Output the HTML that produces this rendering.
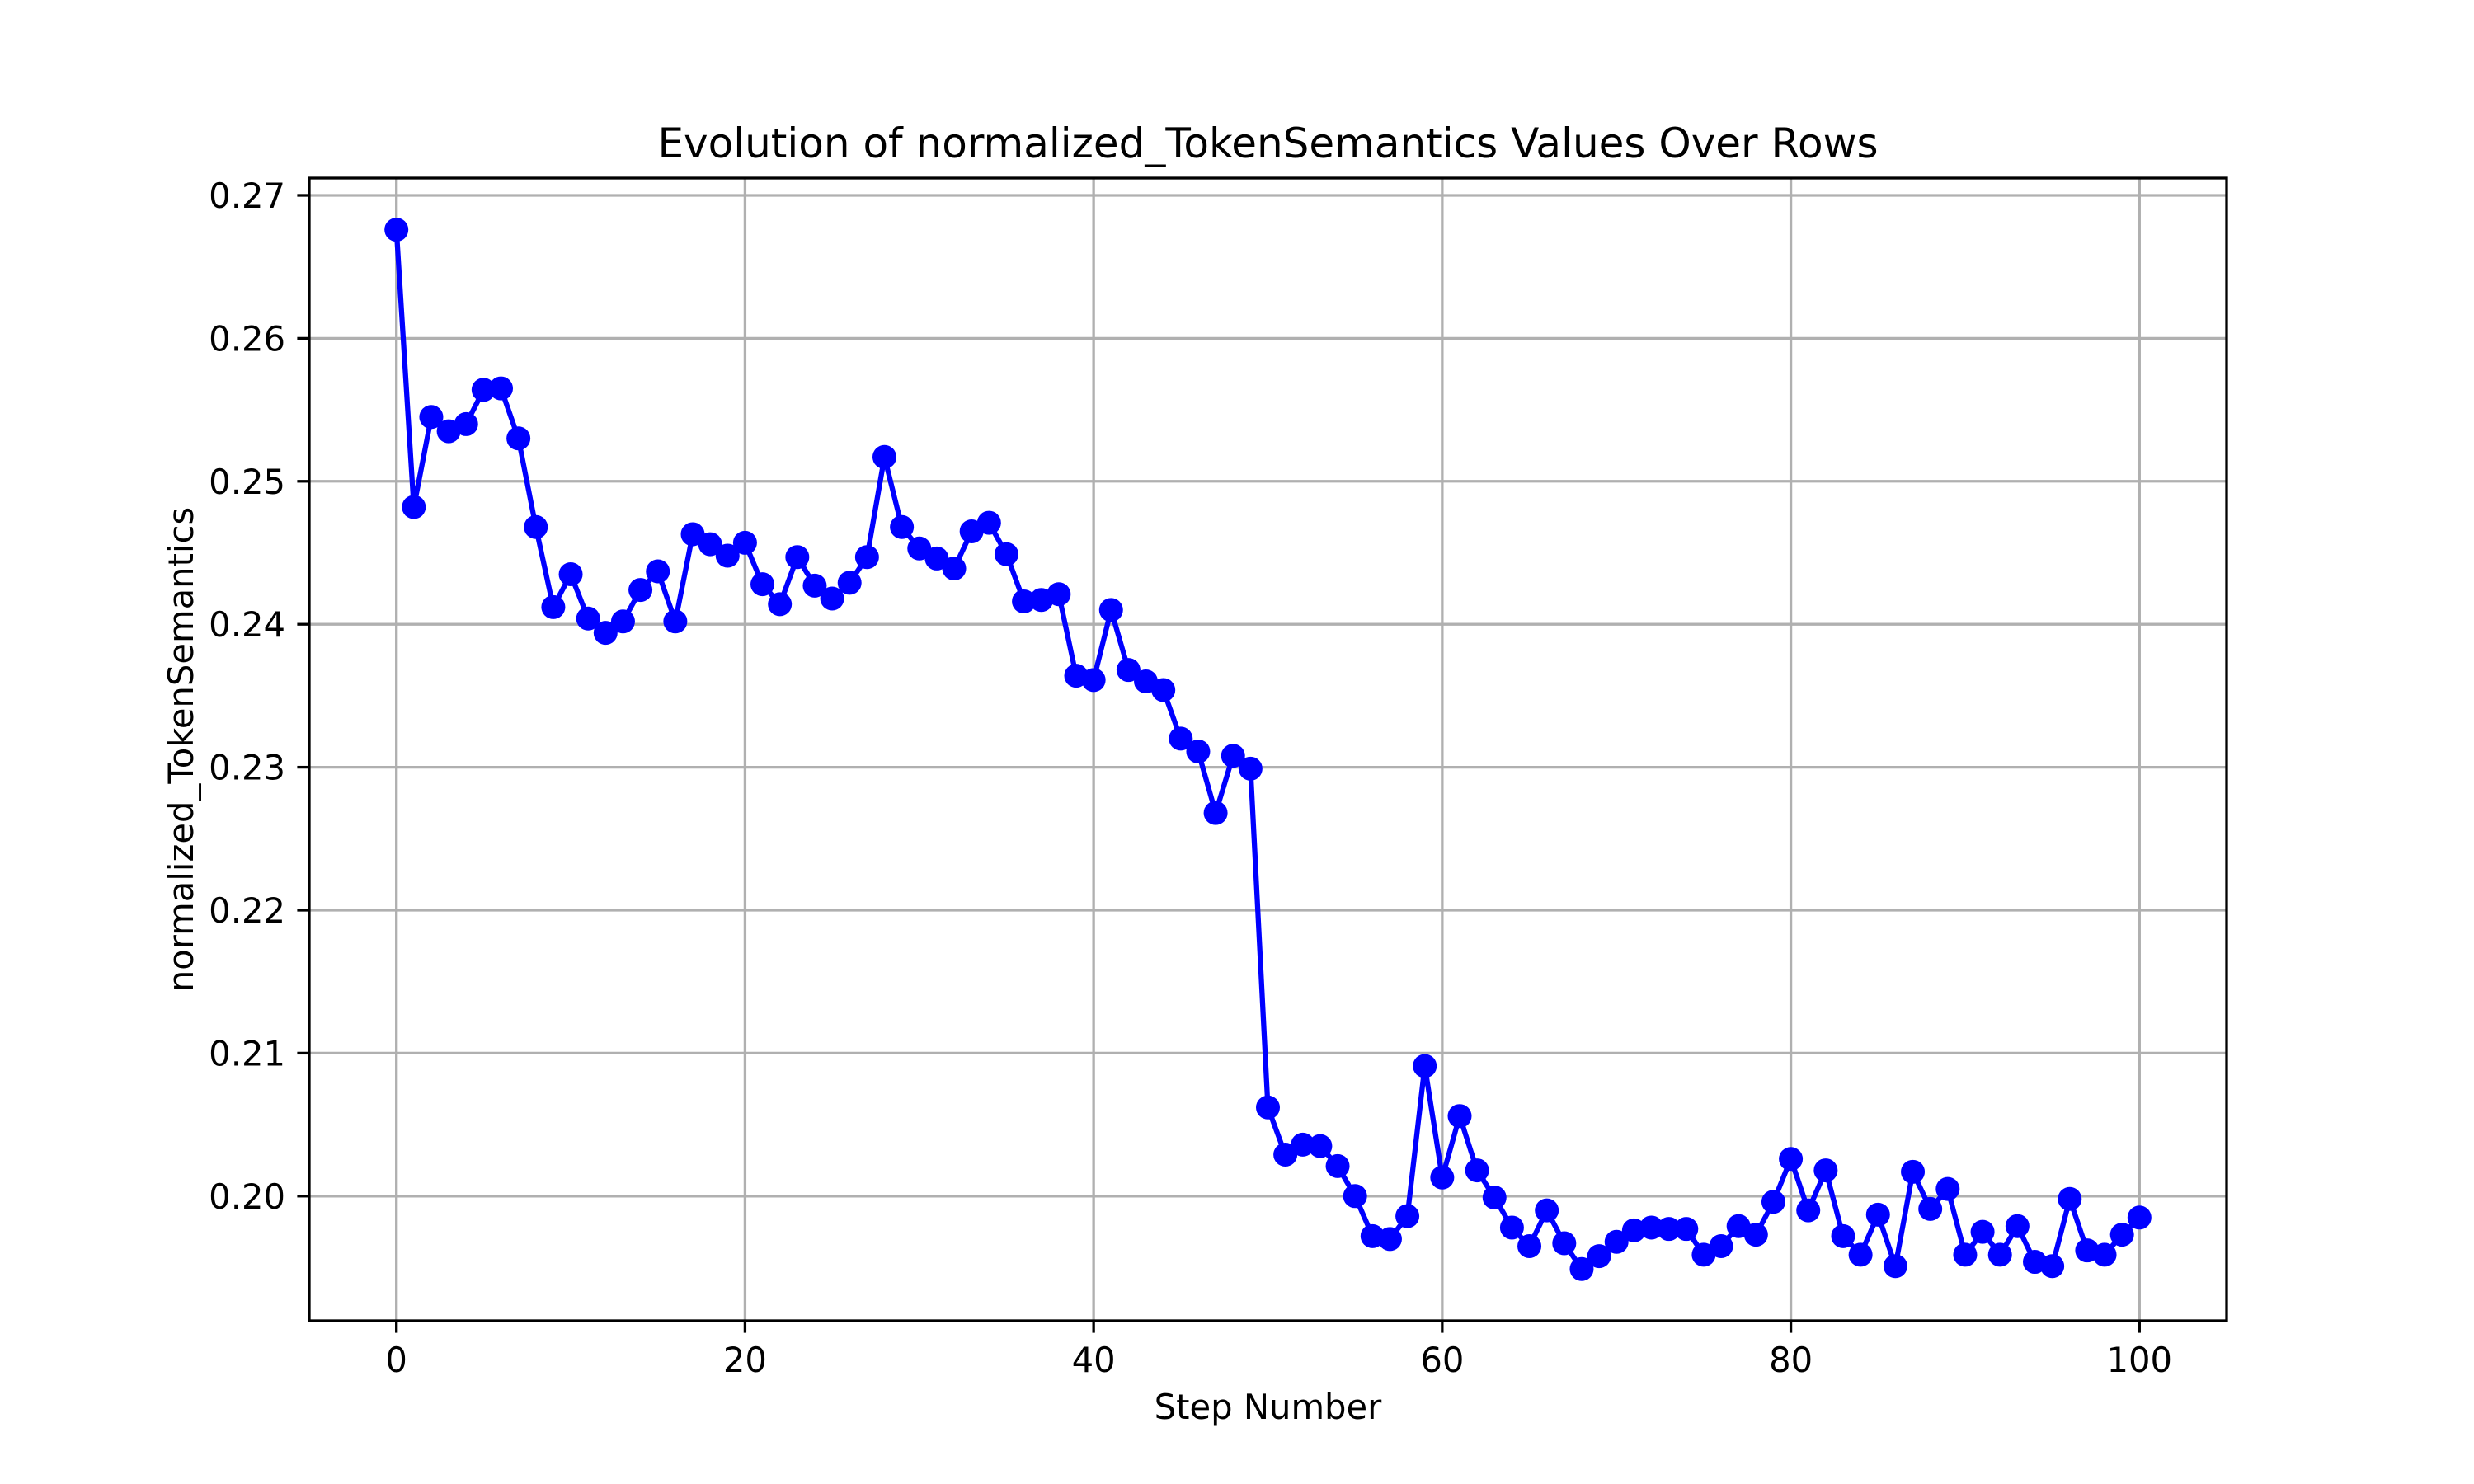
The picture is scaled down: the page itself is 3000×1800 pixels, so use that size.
<!DOCTYPE html>
<html><head><meta charset="utf-8"><style>body{margin:0;background:#fff}svg{display:block}text{font-family:"DejaVu Sans","Liberation Sans",sans-serif;fill:#000}</style></head>
<body>
<svg id="chart" width="3000" height="1800" xmlns="http://www.w3.org/2000/svg">
<rect width="3000" height="1800" fill="#fff"/>
<g id="grid"></g>
<g id="series"></g>
<rect x="375" y="216" width="2325" height="1386" fill="none" stroke="#000" stroke-width="3.3"/>
<g id="ticks"></g>
<text x="1537.5" y="191" font-size="50" text-anchor="middle">Evolution of normalized_TokenSemantics Values Over Rows</text>
<text x="1537.5" y="1721" font-size="41.7" text-anchor="middle">Step Number</text>
<text x="0" y="0" font-size="41.7" text-anchor="middle" transform="translate(234,909) rotate(-90)">normalized_TokenSemantics</text>
</svg>
<script>
const values = [0.2676,0.2482,0.2545,0.2535,0.2540,0.2564,0.2565,0.2530,0.2468,0.2412,
0.2435,0.2404,0.2394,0.2402,0.2424,0.2437,0.2402,0.2463,0.2456,0.2448,
0.2457,0.2428,0.2414,0.2447,0.2427,0.2418,0.2429,0.2447,0.2517,0.2468,
0.2453,0.2446,0.2439,0.2465,0.2471,0.2449,0.2416,0.2417,0.2421,0.2364,
0.2361,0.2410,0.2368,0.2360,0.2354,0.2320,0.2311,0.2268,0.2308,0.2299,
0.2062,0.2029,0.2036,0.2035,0.2021,0.2000,0.1972,0.1970,0.1986,0.2091,
0.2013,0.2056,0.2018,0.1999,0.1978,0.1965,0.1990,0.1967,0.1949,0.1958,
0.1968,0.1976,0.1978,0.1977,0.1977,0.1959,0.1965,0.1979,0.1973,0.1996,
0.2026,0.1990,0.2018,0.1972,0.1959,0.1987,0.1951,0.2017,0.1991,0.2005,
0.1959,0.1975,0.1959,0.1979,0.1954,0.1951,0.1998,0.1962,0.1959,0.1973,0.1985];
const xTicks = [0,20,40,60,80,100];
const yTicks = [0.20,0.21,0.22,0.23,0.24,0.25,0.26,0.27];
const yTickLabels = ["0.20","0.21","0.22","0.23","0.24","0.25","0.26","0.27"];
const L=375,R=2700,T=216,B=1602;
const xMin=-5,xMax=105,yMin=0.19128,yMax=0.27121;
const sx=v=>L+(v-xMin)/(xMax-xMin)*(R-L);
const sy=v=>B-(v-yMin)/(yMax-yMin)*(B-T);
const NS="http://www.w3.org/2000/svg";
function mk(tag,attrs,parent){const e=document.createElementNS(NS,tag);for(const k in attrs)e.setAttribute(k,attrs[k]);parent.appendChild(e);return e;}
const grid=document.getElementById('grid'),ticks=document.getElementById('ticks'),series=document.getElementById('series');
xTicks.forEach(t=>{
  const x=sx(t);
  const g=mk('line',{x1:x,x2:x,y1:T,y2:B,stroke:'#b0b0b0','stroke-width':3.3},grid);
  
  
  const tk=mk('line',{x1:x,x2:x,y1:B,y2:B+14.6,stroke:'#000','stroke-width':3.3},ticks);
  
  
  const tx=mk('text',{x:x,y:B+62,'font-size':41.7,'text-anchor':'middle'},ticks);
  tx.textContent=String(t);
  
  
});
yTicks.forEach((t,i)=>{
  const y=sy(t);
  const g=mk('line',{x1:L,x2:R,y1:y,y2:y,stroke:'#b0b0b0','stroke-width':3.3},grid);
  
  
  const tk=mk('line',{x1:L-14.6,x2:L,y1:y,y2:y,stroke:'#000','stroke-width':3.3},ticks);
  
  
  const tx=mk('text',{x:L-29,y:y+15,'font-size':41.7,'text-anchor':'end'},ticks);
  tx.textContent=yTickLabels[i];
  
  
});
const pts=values.map((v,i)=>sx(i).toFixed(1)+','+sy(v).toFixed(1)).join(' ');
const pl=mk('polyline',{points:pts,fill:'none',stroke:'#0000ff','stroke-width':6.25,'stroke-linejoin':'round'},series);


values.forEach((v,i)=>{
  const c=mk('circle',{cx:sx(i),cy:sy(v),r:14.5,fill:'#0000ff'},series);
  
  
});
</script>
</body></html>
